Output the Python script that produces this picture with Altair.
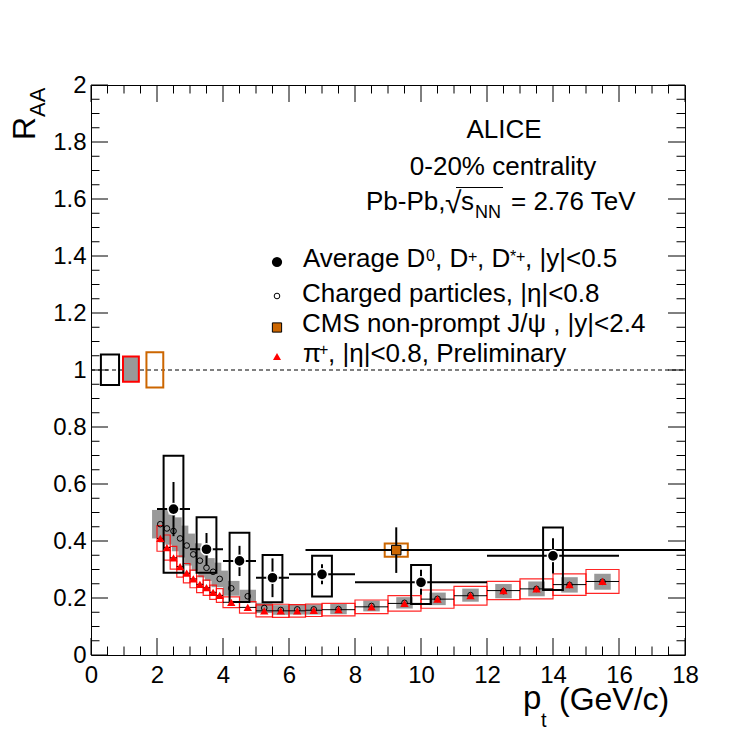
import altair as alt
import pandas as pd

# ---------------- data ----------------
pt_bins = [2.1, 2.3, 2.5, 2.7, 2.9, 3.1, 3.3, 3.5, 3.7, 3.9, 4.25, 4.75, 5.25, 5.75,
           6.25, 6.75, 7.5, 8.5, 9.5, 10.5, 11.5, 12.5, 13.5, 14.5, 15.5]
pt_halfwidth = [0.1] * 10 + [0.25] * 6 + [0.5] * 9
charged_raa = [0.459, 0.444, 0.435, 0.409, 0.384, 0.353, 0.331, 0.306, 0.292, 0.267, 0.234, 0.206,
               0.165, 0.158, 0.160, 0.160, 0.161, 0.172, 0.183, 0.197, 0.210, 0.224, 0.232, 0.246, 0.257]
charged_sys = [0.050, 0.049, 0.048, 0.045, 0.042, 0.039, 0.036, 0.034, 0.032, 0.029, 0.026, 0.023,
               0.018, 0.017, 0.018, 0.018, 0.018, 0.019, 0.020, 0.022, 0.023, 0.025, 0.026, 0.027, 0.028]
pion_raa = [0.409, 0.377, 0.341, 0.310, 0.287, 0.267, 0.248, 0.236, 0.220, 0.209, 0.185, 0.167,
            0.155, 0.155, 0.155, 0.157, 0.159, 0.169, 0.181, 0.196, 0.208, 0.226, 0.232, 0.247, 0.258]
pion_sys = [0.045, 0.044, 0.040, 0.037, 0.034, 0.031, 0.029, 0.027, 0.025, 0.024, 0.019, 0.020,
            0.021, 0.023, 0.022, 0.022, 0.022, 0.024, 0.027, 0.032, 0.033, 0.032, 0.035, 0.038, 0.042]

d_pt = [2.5, 3.5, 4.5, 5.5, 7.0, 10.0, 14.0]
d_pt_lo = [2, 3, 4, 5, 6, 8, 12]
d_pt_hi = [3, 4, 5, 6, 8, 12, 16]
d_raa = [0.512, 0.371, 0.330, 0.271, 0.283, 0.255, 0.348]
d_stat = [0.095, 0.057, 0.053, 0.068, 0.035, 0.044, 0.062]
d_sys_up = [0.187, 0.112, 0.099, 0.080, 0.065, 0.061, 0.099]
d_sys_dn = [0.223, 0.082, 0.144, 0.086, 0.078, 0.076, 0.120]

cms_pt = [9.25]
cms_pt_lo = [6.5]
cms_pt_hi = [30.0]
cms_raa = [0.368]
cms_stat = [0.080]
cms_sys = [0.023]

norm_x1 = [0.30, 0.97, 1.68]
norm_x2 = [0.85, 1.45, 2.19]
norm_lo = [0.947, 0.959, 0.939]
norm_hi = [1.054, 1.047, 1.062]

ref_value = [1.0]

x_major = [0, 2, 4, 6, 8, 10, 12, 14, 16, 18]
y_major = [0, 0.2, 0.4, 0.6, 0.8, 1.0, 1.2, 1.4, 1.6, 1.8, 2.0]
x_minor = [v * 0.5 for v in range(37) if v % 4 != 0]
y_minor = [round(v * 0.05, 2) for v in range(41) if v % 4 != 0]

# ---------------- tables ----------------
cp = pd.DataFrame({"pt": pt_bins, "hw": pt_halfwidth, "ch": charged_raa, "chs": charged_sys,
                   "pi": pion_raa, "pis": pion_sys})
cp["x1"] = cp.pt - cp.hw
cp["x2"] = cp.pt + cp.hw
cp["gx1"] = cp.pt - 0.25
cp["gx2"] = cp.pt + 0.25
cp["ch_lo"] = cp.ch - cp.chs
cp["ch_hi"] = cp.ch + cp.chs
cp["pi_lo"] = cp.pi - cp.pis
cp["pi_hi"] = cp.pi + cp.pis

dd = pd.DataFrame({"pt": d_pt, "lo": d_pt_lo, "hi": d_pt_hi, "r": d_raa, "st": d_stat,
                   "su": d_sys_up, "sd": d_sys_dn})
dd["bx1"] = dd.pt - 0.3
dd["bx2"] = dd.pt + 0.3
dd["st_lo"] = dd.r - dd.st
dd["st_hi"] = dd.r + dd.st
dd["sy_lo"] = dd.r - dd.sd
dd["sy_hi"] = dd.r + dd.su

cm = pd.DataFrame({"pt": cms_pt, "lo": cms_pt_lo, "hi": cms_pt_hi, "r": cms_raa,
                   "st": cms_stat, "sy": cms_sys})
cm["bx1"] = cm.pt - 0.35
cm["bx2"] = cm.pt + 0.35
cm["st_lo"] = cm.r - cm.st
cm["st_hi"] = cm.r + cm.st
cm["sy_lo"] = cm.r - cm.sy
cm["sy_hi"] = cm.r + cm.sy

nb = pd.DataFrame({"x1": norm_x1, "x2": norm_x2, "lo": norm_lo, "hi": norm_hi})

W, H = 594, 570
FONT = "Liberation Sans"
ORANGE = "#cc6600"
GRAY = "#999999"

XS = alt.Scale(domain=[0, 18], nice=False, zero=False)
YS = alt.Scale(domain=[0, 2], nice=False, zero=False)
XAX = alt.Axis(values=x_major, format="~g", ticks=False, tickSize=0, domain=False, grid=False,
               title=None, labelFontSize=24, labelFont=FONT, labelColor="black", labelPadding=8,
               labelFlush=False, labelOverlap=False)
YAX = alt.Axis(values=y_major, format="~g", ticks=False, tickSize=0, domain=False, grid=False,
               title=None, labelFontSize=24, labelFont=FONT, labelColor="black", labelPadding=5,
               labelFlush=False, labelOverlap=False)


def X(f):
    return alt.X(f"{f}:Q", scale=XS, axis=XAX)


def Y(f):
    return alt.Y(f"{f}:Q", scale=YS, axis=YAX)


layers = []

# reference line at 1
layers.append(alt.Chart(pd.DataFrame({"v": ref_value})).mark_rule(
    color="black", strokeWidth=1, strokeDash=[4, 3]).encode(
    y=Y("v"), x=alt.value(0), x2=alt.value(W)))

# normalisation boxes
nb_styles = [dict(fillOpacity=0, stroke="black", strokeWidth=2),
             dict(fill=GRAY, stroke="red", strokeWidth=2),
             dict(fillOpacity=0, stroke=ORANGE, strokeWidth=2)]
for i, st in enumerate(nb_styles):
    layers.append(alt.Chart(nb.iloc[[i]]).mark_rect(**st).encode(
        x=X("x1"), x2="x2", y=Y("lo"), y2="hi"))

# charged particle systematic boxes (gray)
layers.append(alt.Chart(cp).mark_rect(fill=GRAY, strokeWidth=0).encode(
    x=X("gx1"), x2="gx2", y=Y("ch_lo"), y2="ch_hi"))

# pion systematic boxes (red open)
layers.append(alt.Chart(cp).mark_rect(fillOpacity=0, stroke="red", strokeWidth=1.2,
                                      strokeOpacity=0.85).encode(
    x=X("x1"), x2="x2", y=Y("pi_lo"), y2="pi_hi"))

# D systematic boxes
layers.append(alt.Chart(dd).mark_rect(fillOpacity=0, stroke="black", strokeWidth=2).encode(
    x=X("bx1"), x2="bx2", y=Y("sy_lo"), y2="sy_hi"))

# CMS systematic box
layers.append(alt.Chart(cm).mark_rect(fillOpacity=0, stroke=ORANGE, strokeWidth=2).encode(
    x=X("bx1"), x2="bx2", y=Y("sy_lo"), y2="sy_hi"))

# charged / pion x error lines
layers.append(alt.Chart(cp).mark_rule(color="black", strokeWidth=1).encode(
    x=X("x1"), x2="x2", y=Y("pi")))

# D error bars
layers.append(alt.Chart(dd).mark_rule(color="black", strokeWidth=2).encode(
    x=X("lo"), x2="hi", y=Y("r")))
layers.append(alt.Chart(dd).mark_rule(color="black", strokeWidth=2).encode(
    x=X("pt"), y=Y("st_lo"), y2="st_hi"))

# CMS error bars
layers.append(alt.Chart(cm).mark_rule(color="black", strokeWidth=2, clip=True).encode(
    x=X("lo"), x2="hi", y=Y("r")))
layers.append(alt.Chart(cm).mark_rule(color="black", strokeWidth=2).encode(
    x=X("pt"), y=Y("st_lo"), y2="st_hi"))

# markers
layers.append(alt.Chart(cp).mark_point(shape="circle", filled=False, stroke="black",
                                       strokeWidth=1, size=32, opacity=1).encode(
    x=X("pt"), y=Y("ch")))
layers.append(alt.Chart(cp).mark_point(shape="triangle-up", filled=True, fill="red",
                                       strokeWidth=0, size=70, opacity=1).encode(
    x=X("pt"), y=Y("pi")))
layers.append(alt.Chart(dd).mark_point(shape="circle", filled=True, fill="black", stroke="white",
                                       strokeWidth=1.5, size=125, opacity=1).encode(
    x=X("pt"), y=Y("r")))
layers.append(alt.Chart(cm).mark_point(shape="square", filled=True, fill=ORANGE, stroke="black",
                                       strokeWidth=1, size=90, opacity=1).encode(
    x=X("pt"), y=Y("r")))

# ticks (inside frame, all four sides)
for vals, ln in ((x_major, 17), (x_minor, 8.5)):
    t = alt.Chart(pd.DataFrame({"v": vals}))
    layers.append(t.mark_rule(color="black", strokeWidth=1).encode(
        x=X("v"), y=alt.value(H), y2=alt.value(H - ln)))
    layers.append(t.mark_rule(color="black", strokeWidth=1).encode(
        x=X("v"), y=alt.value(0), y2=alt.value(ln)))
for vals, ln in ((y_major, 17), (y_minor, 8.5)):
    t = alt.Chart(pd.DataFrame({"v": vals}))
    layers.append(t.mark_rule(color="black", strokeWidth=1).encode(
        y=Y("v"), x=alt.value(0), x2=alt.value(ln)))
    layers.append(t.mark_rule(color="black", strokeWidth=1).encode(
        y=Y("v"), x=alt.value(W), x2=alt.value(W - ln)))

dummy = pd.DataFrame({"a": [0]})
OX, OY = 91, 85  # page position of the plot origin


def txt(s, px, py, size=26, align="left", angle=0):
    kw = dict(text=s, fontSize=size, font=FONT, color="black", align=align,
              baseline="alphabetic")
    if angle:
        kw["angle"] = angle
    return alt.Chart(dummy).mark_text(**kw).encode(
        x=alt.value(px - OX), y=alt.value(py - OY))


# header texts
layers += [
    txt("ALICE", 504, 138, align="center"),
    txt("0-20% centrality", 503, 175, align="center"),
    txt("Pb-Pb,", 366, 210),
    txt("√", 445, 213, size=30),
    txt("s", 461, 210),
    txt("NN", 475, 218, size=18),
    txt("= 2.76 TeV", 511, 210),
]
layers.append(alt.Chart(dummy).mark_rule(color="black", strokeWidth=1.2).encode(
    x=alt.value(456 - OX), x2=alt.value(503 - OX), y=alt.value(187.5 - OY)))

# legend texts
layers += [
    txt("Average D", 303, 267),
    txt("0", 426, 261, size=16),
    txt(", D", 435, 267),
    txt("+", 468, 262, size=16),
    txt(", D", 477, 267),
    txt("*", 510, 262, size=16),
    txt("+", 516, 262, size=16),
    txt(", |y|<0.5", 525, 267),
    txt("Charged particles, |η|<0.8", 302, 302),
    txt("CMS non-prompt J/ψ , |y|<2.4", 302, 332),
    txt("π", 303, 362),
    txt("+", 319, 355, size=16),
    txt(", |η|<0.8, Preliminary", 328, 362),
]

# legend markers
layers += [
    alt.Chart(dummy).mark_point(shape="circle", filled=True, fill="black", size=105,
                                strokeWidth=0, opacity=1).encode(
        x=alt.value(277 - OX), y=alt.value(262 - OY)),
    alt.Chart(dummy).mark_point(shape="circle", filled=False, stroke="black", size=32,
                                strokeWidth=1, opacity=1).encode(
        x=alt.value(277 - OX), y=alt.value(296 - OY)),
    alt.Chart(dummy).mark_point(shape="square", filled=True, fill=ORANGE, stroke="black",
                                strokeWidth=1, size=85, opacity=1).encode(
        x=alt.value(277 - OX), y=alt.value(327.5 - OY)),
    alt.Chart(dummy).mark_point(shape="triangle-up", filled=True, fill="red", size=65,
                                strokeWidth=0, opacity=1).encode(
        x=alt.value(277 - OX), y=alt.value(356.5 - OY)),
]

# axis titles
layers += [
    txt("R", 35, 140, size=32, angle=270),
    txt("AA", 45, 117, size=22, angle=270),
    txt("p", 523, 709, size=33),
    txt("t", 541, 727, size=20),
    txt("(GeV/c)", 559, 710, size=32),
]

chart = alt.layer(*layers).properties(
    width=W, height=H,
    padding={"left": 83, "top": 77, "right": 48, "bottom": 78},
    autosize=alt.AutoSizeParams(type="none"),
    background="white",
).configure_view(stroke="black", strokeWidth=1)

chart.save("out.html", embed_options={"renderer": "svg", "actions": False})
